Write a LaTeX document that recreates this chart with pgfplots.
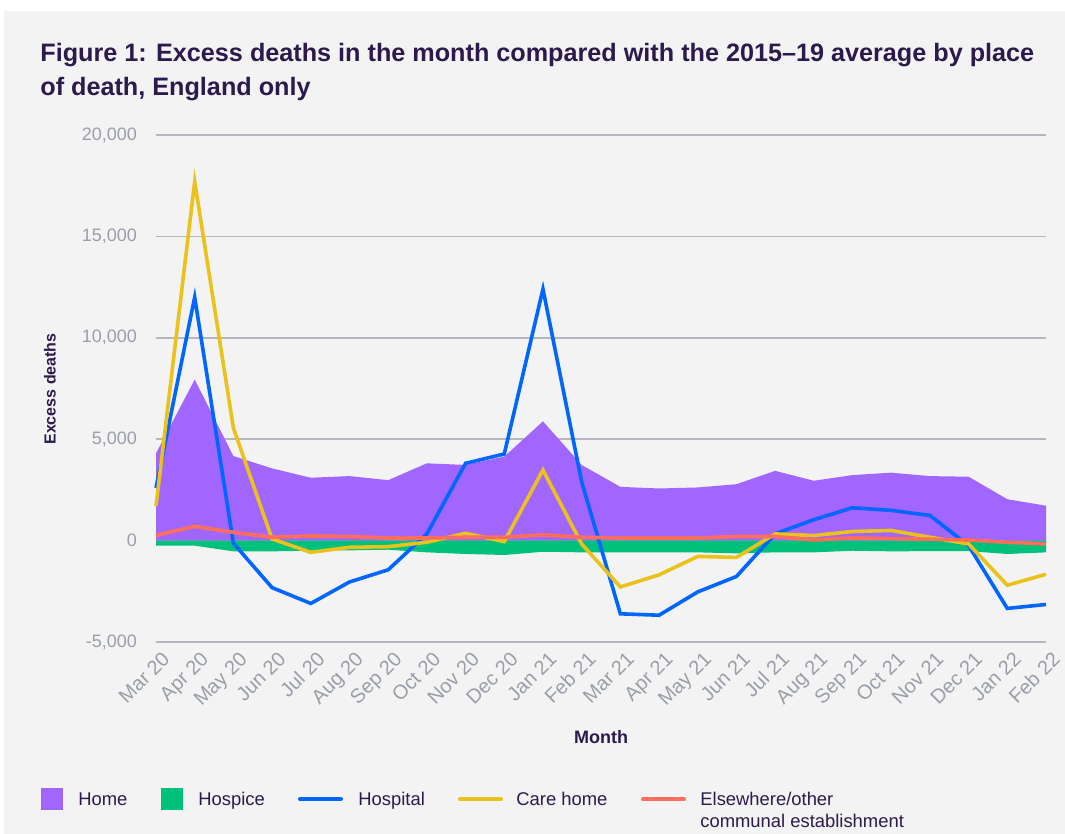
\documentclass[border=0pt]{standalone}
\usepackage{pgfplots}
\pgfplotsset{compat=1.18}
\usepackage{fontspec}
\setmainfont{Liberation Sans}
\definecolor{bg}{HTML}{F3F3F3}
\definecolor{homec}{HTML}{A066FF}
\definecolor{hospicec}{HTML}{00C17C}
\definecolor{hospc}{HTML}{0066FF}
\definecolor{carec}{HTML}{EBC11B}
\definecolor{elsec}{HTML}{FF6E5A}
\definecolor{titlec}{HTML}{2B1A4B}
\definecolor{tickc}{HTML}{9A9EA8}
\definecolor{gridc}{HTML}{B4B7BD}
\begin{document}
\begin{tikzpicture}
\begin{scope}[x=0.5pt, y=-0.5pt, shift={(0pt,417pt)}]
\fill[white] (0,0) rectangle (1065,834);
\fill[bg] (4,11) rectangle (1065,834);
\node[anchor=north west, inner sep=0pt, align=left, text=titlec,
      font=\fontsize{12.6}{17}\selectfont\bfseries] at (40,43)
  {Figure 1: Excess deaths in the month compared with the 2015--19 average by place\\of death, England only};
\node[rotate=90, text=titlec, font=\fontsize{8}{9}\selectfont\bfseries] at (50,389) {Excess deaths};
\node[text=titlec, font=\fontsize{9}{10}\selectfont\bfseries] at (601,737) {Month};
% legend
\fill[homec] (41,788) rectangle (63,810);
\node[anchor=base west, inner sep=0pt, text=titlec, font=\fontsize{9.2}{11}\selectfont] at (78,806) {Home};
\fill[hospicec] (161,788) rectangle (183,810);
\node[anchor=base west, inner sep=0pt, text=titlec, font=\fontsize{9.2}{11}\selectfont] at (198,806) {Hospice};
\draw[hospc, line width=2pt, line cap=round] (300,799) -- (341,799);
\node[anchor=base west, inner sep=0pt, text=titlec, font=\fontsize{9.2}{11}\selectfont] at (358,806) {Hospital};
\draw[carec, line width=2pt, line cap=round] (460,799) -- (501,799);
\node[anchor=base west, inner sep=0pt, text=titlec, font=\fontsize{9.2}{11}\selectfont] at (516,806) {Care home};
\draw[elsec, line width=2pt, line cap=round] (643,799) -- (684,799);
\node[anchor=base west, inner sep=0pt, text=titlec, font=\fontsize{9.2}{11}\selectfont] at (700,806) {Elsewhere/other};
\node[anchor=base west, inner sep=0pt, text=titlec, font=\fontsize{9.2}{11}\selectfont] at (700,828) {communal establishment};
\end{scope}
\begin{axis}[
  at={(78pt,96pt)}, anchor=south west,
  scale only axis, width=445pt, height=253.5pt,
  xmin=0, xmax=23, ymin=-5000, ymax=20000,
  axis line style={draw=none},
  major tick length=0pt,
  xtick={0,...,23},
  xticklabels={Mar 20,Apr 20,May 20,Jun 20,Jul 20,Aug 20,Sep 20,Oct 20,Nov 20,Dec 20,Jan 21,Feb 21,Mar 21,Apr 21,May 21,Jun 21,Jul 21,Aug 21,Sep 21,Oct 21,Nov 21,Dec 21,Jan 22,Feb 22},
  ytick={-5000,0,5000,10000,15000,20000},
  scaled y ticks=false,
  ymajorgrids, grid style={gridc, line width=0.75pt},
  tick label style={font=\fontsize{9}{10}\selectfont, text=tickc},
  /pgf/number format/1000 sep={,},
  /pgf/number format/assume math mode=true,
  yticklabel style={xshift=-6pt},
  xticklabel style={font=\fontsize{10}{11}\selectfont, xshift=2.5pt, yshift=-4pt, rotate=45, anchor=north east, inner sep=0pt},
  clip=false,
]
\addplot[fill=homec, draw=none] coordinates {
(0,0) (0,4300) (1,7940) (2,4170) (3,3560) (4,3100) (5,3180) (6,2980) (7,3810) (8,3730) (9,4140) (10,5880) (11,3730)
(12,2650) (13,2570) (14,2620) (15,2780) (16,3440) (17,2950) (18,3230) (19,3350) (20,3180) (21,3150) (22,2040) (23,1720) (23,0)
} -- cycle;
\addplot[fill=hospicec, draw=none] coordinates {
(0,0) (0,-250) (1,-250) (2,-530) (3,-530) (4,-500) (5,-480) (6,-450) (7,-580) (8,-660) (9,-710) (10,-550) (11,-580)
(12,-580) (13,-580) (14,-580) (15,-630) (16,-580) (17,-580) (18,-500) (19,-530) (20,-520) (21,-520) (22,-660) (23,-580) (23,0)
} -- cycle;
\addplot[hospc, line width=1.8pt, mark=none] coordinates {
(0,2600) (1,12000) (2,-130) (3,-2320) (4,-3100) (5,-2040) (6,-1440) (7,330) (8,3810) (9,4270) (10,12400) (11,2900)
(12,-3610) (13,-3680) (14,-2530) (15,-1770) (16,330) (17,1030) (18,1620) (19,1490) (20,1240) (21,-250) (22,-3345) (23,-3150)
};
\addplot[carec, line width=1.8pt, mark=none] coordinates {
(0,1700) (1,17700) (2,5550) (3,80) (4,-580) (5,-330) (6,-300) (7,-80) (8,360) (9,-50) (10,3480) (11,-165)
(12,-2285) (13,-1690) (14,-780) (15,-830) (16,330) (17,250) (18,450) (19,500) (20,165) (21,-165) (22,-2200) (23,-1660)
};
\addplot[elsec, line width=1.8pt, mark=none] coordinates {
(0,260) (1,700) (2,410) (3,165) (4,230) (5,200) (6,130) (7,130) (8,165) (9,165) (10,280) (11,165)
(12,130) (13,130) (14,130) (15,200) (16,200) (17,30) (18,130) (19,100) (20,65) (21,30) (22,-80) (23,-165)
};
\end{axis}
\pgfresetboundingbox
\path[use as bounding box] (0,0) rectangle (532.5pt,417pt);
\end{tikzpicture}
\end{document}
